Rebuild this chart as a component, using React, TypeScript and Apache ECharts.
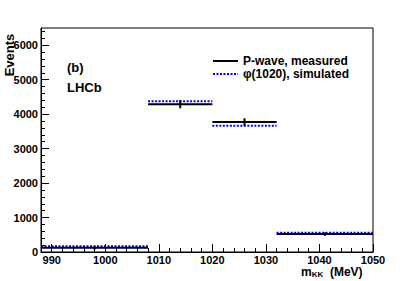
import React, { useEffect, useRef } from "react";
import * as echarts from "echarts";

const binEdges = [988, 1008, 1020, 1032, 1050];
const measured = [120, 4290, 3770, 520];
const measuredErr = [50, 120, 110, 50];
const simulated = [165, 4375, 3665, 555];
const xMajorTicks = [990, 1000, 1010, 1020, 1030, 1040, 1050];
const xMinorTicks = [988, 992, 994, 996, 998, 1002, 1004, 1006, 1008, 1012, 1014, 1016, 1018, 1022, 1024, 1026, 1028, 1032, 1034, 1036, 1038, 1042, 1044, 1046, 1048];
const yMajorTicks = [0, 1000, 2000, 3000, 4000, 5000, 6000];
const yMinorTicks = [200, 400, 600, 800, 1200, 1400, 1600, 1800, 2200, 2400, 2600, 2800, 3200, 3400, 3600, 3800, 4200, 4400, 4600, 4800, 5200, 5400, 5600, 5800, 6200, 6400];
const seriesNames = ["P-wave, measured", "\u03c6(1020), simulated"];

const FONT = "Liberation Sans, Arial, Helvetica, sans-serif";

function stepData(values: number[]) {
  const out: any[] = [];
  values.forEach((v, i) => {
    out.push([binEdges[i], v]);
    out.push([binEdges[i + 1], v]);
    out.push([binEdges[i + 1], "-"]);
  });
  return out;
}

export default function App() {
  const ref = useRef<HTMLDivElement>(null);
  useEffect(() => {
    if (!ref.current) return;
    const chart = echarts.init(ref.current, undefined, { renderer: "svg" });
    const errData = measured.map((v, i) => [
      (binEdges[i] + binEdges[i + 1]) / 2,
      v - measuredErr[i],
      v + measuredErr[i],
    ]);
    const xMin = binEdges[0];
    const xMax = binEdges[binEdges.length - 1];
    const labelStyle = {
      color: "#000", fontFamily: FONT, fontWeight: "bold" as const, fontSize: 11,
      formatter: (v: number) => String(v),
    };
    chart.setOption({
      animation: false,
      backgroundColor: "#fff",
      grid: { left: 41, right: 42, top: 28, bottom: 29, show: true, borderColor: "#000", borderWidth: 1 },
      xAxis: [
        {
          type: "value", min: xMin, max: xMax, position: "bottom",
          axisLine: { lineStyle: { color: "#000", width: 1 } },
          axisTick: { inside: true, length: 8, customValues: xMajorTicks, lineStyle: { color: "#000" } },
          axisLabel: { ...labelStyle, customValues: xMajorTicks, margin: 2 },
          splitLine: { show: false },
        },
        {
          type: "value", min: xMin, max: xMax, position: "bottom",
          axisLine: { show: false },
          axisTick: { inside: true, length: 4, customValues: xMinorTicks, lineStyle: { color: "#000" } },
          axisLabel: { show: false },
          splitLine: { show: false },
        },
      ],
      yAxis: [
        {
          type: "value", min: 0, max: 6500, position: "left",
          axisLine: { show: true, lineStyle: { color: "#000", width: 1 } },
          axisTick: { show: true, inside: true, length: 8, customValues: yMajorTicks, lineStyle: { color: "#000" } },
          axisLabel: { ...labelStyle, customValues: yMajorTicks, margin: 3 },
          splitLine: { show: false },
        },
        {
          type: "value", min: 0, max: 6500, position: "left",
          axisLine: { show: false },
          axisTick: { show: true, inside: true, length: 4, customValues: yMinorTicks, lineStyle: { color: "#000" } },
          axisLabel: { show: false },
          splitLine: { show: false },
        },
      ],
      series: [
        {
          name: seriesNames[1], type: "line", data: stepData(simulated), symbol: "none",
          connectNulls: false, lineStyle: { color: "#0000ff", width: 2, type: [2, 1.5] }, z: 2,
        },
        {
          name: seriesNames[0], type: "line", data: stepData(measured), symbol: "none",
          connectNulls: false, lineStyle: { color: "#000", width: 2 }, z: 3,
        },
        {
          type: "custom", data: errData, z: 4,
          renderItem: (_p: any, api: any) => {
            const a = api.coord([api.value(0), api.value(1)]);
            const b = api.coord([api.value(0), api.value(2)]);
            return { type: "line", shape: { x1: a[0], y1: a[1], x2: b[0], y2: b[1] }, style: { stroke: "#000", lineWidth: 2 } };
          },
        },
      ],
      graphic: [
        { type: "text", x: 9, y: 55, rotation: Math.PI / 2, style: { text: "Events", font: `bold 13px ${FONT}`, fill: "#000", align: "center", verticalAlign: "middle" } },
        { type: "text", x: 67, y: 67, style: { text: "(b)", font: `bold 13px ${FONT}`, fill: "#000", verticalAlign: "middle" } },
        { type: "text", x: 67, y: 87, style: { text: "LHCb", font: `bold 13px ${FONT}`, fill: "#000", verticalAlign: "middle" } },
        { type: "line", shape: { x1: 213, y1: 61, x2: 238, y2: 61 }, style: { stroke: "#000", lineWidth: 2 } },
        { type: "text", x: 243, y: 61, style: { text: seriesNames[0], font: `bold 12px ${FONT}`, fill: "#000", verticalAlign: "middle" } },
        { type: "line", shape: { x1: 213, y1: 74, x2: 238, y2: 74 }, style: { stroke: "#0000ff", lineWidth: 2, lineDash: [2, 1.5] } },
        { type: "text", x: 243, y: 74, style: { text: seriesNames[1], font: `bold 12px ${FONT}`, fill: "#000", verticalAlign: "middle" } },
        {
          type: "text", x: 301, y: 272,
          style: {
            text: "{m|m}{s|KK}{m|  (MeV)}",
            verticalAlign: "middle",
            rich: {
              m: { font: `bold 12px ${FONT}`, fill: "#000", color: "#000" },
              s: { font: `bold 8px ${FONT}`, fill: "#000", color: "#000", padding: [5, 0, 0, 0] },
            },
          },
        },
      ],
    });
    return () => chart.dispose();
  }, []);
  return <div ref={ref} style={{ position: "absolute", left: 0, top: 0, width: 415, height: 281 }} />;
}
